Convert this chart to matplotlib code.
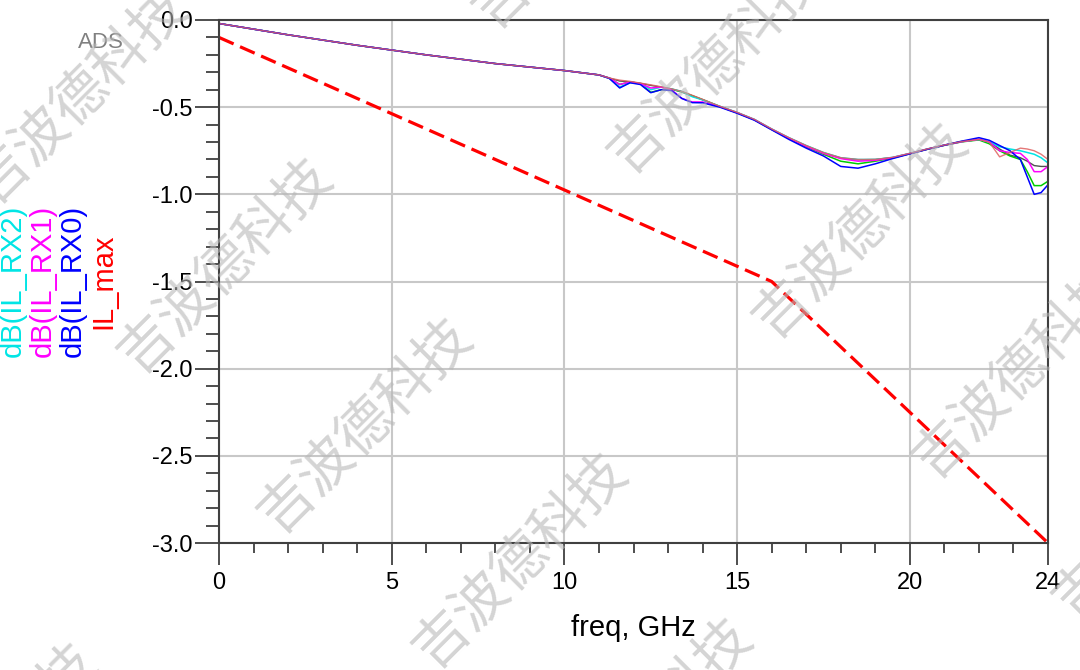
import matplotlib.pyplot as plt
from matplotlib.ticker import MultipleLocator

plt.rcParams['font.family'] = ['Liberation Sans', 'DejaVu Sans']

# frequency points (GHz)
freq = [0, 2, 4, 6, 8, 10, 11, 11.3, 11.6, 11.9, 12.2, 12.5, 12.8, 13.1, 13.4,
        13.7, 14.0, 14.5, 15, 15.5, 16, 16.5, 17, 17.5, 18, 18.5, 19, 19.5,
        20, 20.5, 21, 21.5, 22, 22.3, 22.6, 22.9, 23.2, 23.4, 23.6, 23.8, 24]

il_rx2 = [-0.02, -0.085, -0.145, -0.20, -0.25, -0.29, -0.315, -0.335, -0.385,
          -0.36, -0.365, -0.40, -0.385, -0.395, -0.41, -0.44, -0.458, -0.495,
          -0.53, -0.57, -0.625, -0.675, -0.72, -0.76, -0.79, -0.80, -0.80,
          -0.788, -0.765, -0.74, -0.717, -0.697, -0.685, -0.70, -0.727, -0.74,
          -0.75, -0.76, -0.77, -0.79, -0.82]
il_rx1 = [-0.02, -0.085, -0.145, -0.20, -0.25, -0.29, -0.315, -0.333, -0.37,
          -0.355, -0.365, -0.39, -0.385, -0.40, -0.45, -0.47, -0.47, -0.497,
          -0.532, -0.572, -0.627, -0.678, -0.725, -0.765, -0.795, -0.81,
          -0.805, -0.79, -0.766, -0.741, -0.718, -0.698, -0.684, -0.70, -0.75,
          -0.76, -0.765, -0.80, -0.87, -0.87, -0.84]
il_rx0 = [-0.02, -0.085, -0.145, -0.20, -0.25, -0.29, -0.315, -0.335, -0.39,
          -0.36, -0.37, -0.417, -0.40, -0.405, -0.45, -0.474, -0.475, -0.50,
          -0.535, -0.575, -0.63, -0.685, -0.735, -0.78, -0.84, -0.85, -0.825,
          -0.795, -0.768, -0.742, -0.718, -0.695, -0.675, -0.69, -0.72, -0.75,
          -0.80, -0.90, -1.0, -0.99, -0.945]
il_rx3 = [-0.02, -0.085, -0.145, -0.20, -0.25, -0.29, -0.315, -0.333, -0.37,
          -0.355, -0.365, -0.415, -0.40, -0.397, -0.412, -0.435, -0.457,
          -0.496, -0.532, -0.572, -0.628, -0.68, -0.728, -0.77, -0.81, -0.825,
          -0.81, -0.792, -0.767, -0.742, -0.719, -0.699, -0.688, -0.71, -0.75,
          -0.78, -0.80, -0.87, -0.95, -0.95, -0.925]
il_rx4 = [-0.02, -0.085, -0.145, -0.20, -0.25, -0.29, -0.315, -0.333, -0.345,
          -0.352, -0.362, -0.372, -0.383, -0.395, -0.41, -0.432, -0.455,
          -0.495, -0.53, -0.57, -0.625, -0.675, -0.72, -0.76, -0.79, -0.80,
          -0.80, -0.788, -0.765, -0.74, -0.717, -0.697, -0.685, -0.70, -0.785,
          -0.76, -0.735, -0.74, -0.75, -0.77, -0.80]
il_rx5 = [-0.02, -0.085, -0.145, -0.20, -0.25, -0.29, -0.315, -0.333, -0.35,
          -0.355, -0.363, -0.375, -0.385, -0.397, -0.412, -0.434, -0.457,
          -0.497, -0.532, -0.572, -0.627, -0.677, -0.722, -0.762, -0.792,
          -0.802, -0.80, -0.789, -0.766, -0.741, -0.718, -0.698, -0.686, -0.70,
          -0.74, -0.775, -0.79, -0.81, -0.835, -0.84, -0.84]

il_max_freq = [0, 16, 24]
il_max = [-0.1, -1.5, -3.0]

legend_names = ['dB(IL_RX2)', 'dB(IL_RX1)', 'dB(IL_RX0)', 'IL_max']
legend_colors = ['#00e5e5', '#ff00ff', '#0000ff', '#ff0000']

watermark = '吉波德科技'
wm_centers = [(80, 95), (715, 65), (225, 265), (365, 425), (520, 560),
              (645, 725), (860, 230), (1020, 370), (1160, 510), (580, -80),
              (-10, 750)]

fig = plt.figure(figsize=(10.8, 6.7), dpi=100)
ax = fig.add_axes([219 / 1080, 1 - 543 / 670, 829 / 1080, 523 / 670])

ax.plot(freq, il_rx5, color='#505050', lw=1)
ax.plot(freq, il_rx3, color='#00cc00', lw=1.1)
ax.plot(freq, il_rx2, color='#00e5e5', lw=1.1)
ax.plot(freq, il_rx1, color='#ff00ff', lw=1.1)
ax.plot(freq, il_rx0, color='#0000ff', lw=1.1)
ax.plot(freq, il_rx4, color='#e06060', lw=1, alpha=0.85)
ax.plot(il_max_freq, il_max, color='#ff0000', lw=2.3, dashes=(5, 2.2))

ax.set_xlim(0, 24)
ax.set_ylim(-3.0, 0.0)
ax.set_xticks([0, 5, 10, 15, 20, 24])
ax.xaxis.set_minor_locator(MultipleLocator(1))
ax.yaxis.set_major_locator(MultipleLocator(0.5))
ax.yaxis.set_minor_locator(MultipleLocator(0.1))
ax.set_yticklabels(['%.1f' % v for v in ax.get_yticks()])
ax.grid(True, which='major', color='#c8c8c8', lw=1.5)
ax.set_axisbelow(True)

for s in ax.spines.values():
    s.set_color('#404040')
    s.set_linewidth(1.5)
ax.tick_params(which='major', direction='out', width=1.3, color='#404040',
               labelsize=17)
ax.tick_params(which='minor', direction='out', width=1.3, color='#404040')
ax.tick_params(axis='x', which='major', length=16, pad=5)
ax.tick_params(axis='x', which='minor', length=7.5)
ax.tick_params(axis='y', which='major', length=17, pad=2)
ax.tick_params(axis='y', which='minor', length=9.5)
ax.set_xlabel('freq, GHz', fontsize=21, labelpad=14)

# vertical legend names on the left
for i, (name, col) in enumerate(zip(legend_names, legend_colors)):
    fig.text((13 + 30 * i) / 1080, 1 - 281 / 670, name, color=col,
             fontsize=21, rotation=90, ha='center', va='center')

fig.text(101 / 1080, 1 - 43 / 670, 'ADS', color='#808080', fontsize=16,
         ha='center', va='center')

for cx, cy in wm_centers:
    fig.text(cx / 1080, 1 - cy / 670, watermark, color='#b8b8b8', alpha=0.6,
             fontsize=40, rotation=45, ha='center', va='center',
             rotation_mode='anchor', family=['Noto Sans CJK SC'],
             fontweight='light', zorder=10)

fig.savefig('out.png', dpi=100)
